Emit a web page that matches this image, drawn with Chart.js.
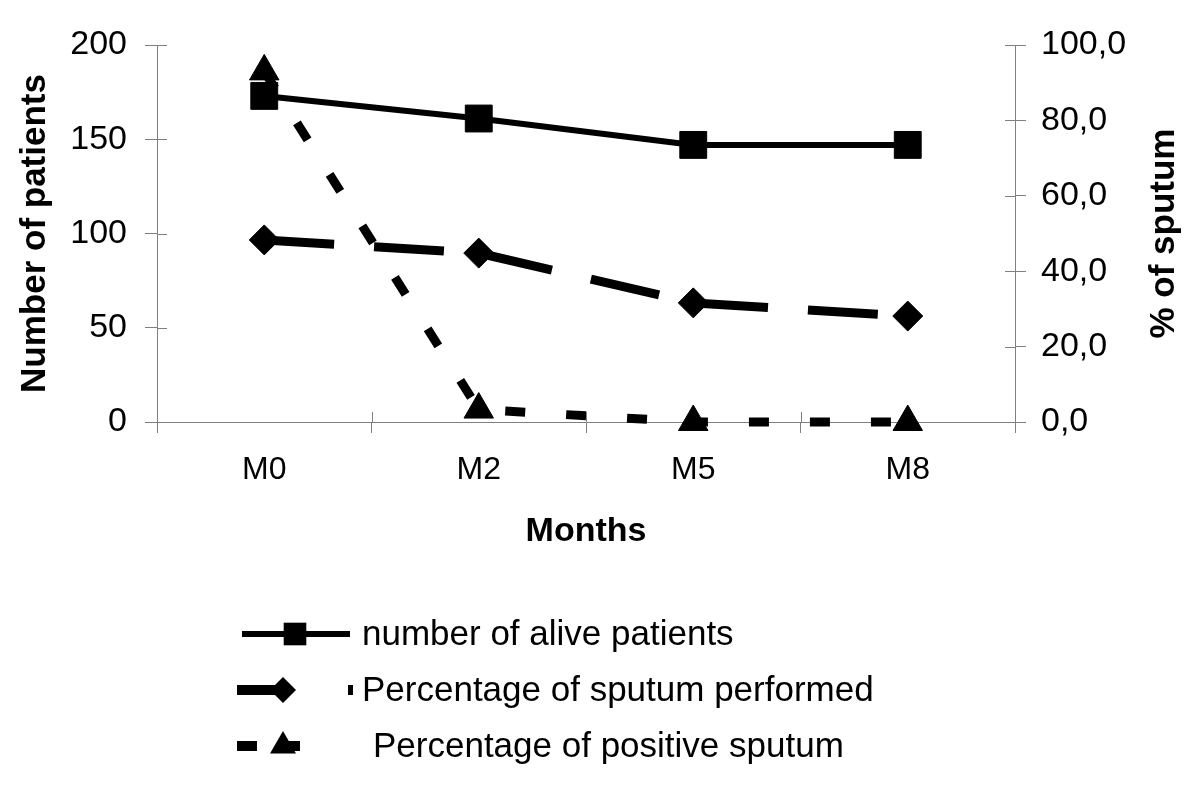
<!DOCTYPE html>
<html><head><meta charset="utf-8">
<script src="https://cdn.jsdelivr.net/npm/chart.js@4.4.1/dist/chart.umd.min.js"></script>
<style>html,body{margin:0;padding:0;background:#fff}canvas{display:block}</style>
</head><body>
<canvas id="c" width="1200" height="785"></canvas>
<script>
const months = ['M0', 'M2', 'M5', 'M8'];
const alivePatients = [173, 161, 147, 147];
const sputumPerformed = [48.3, 44.8, 31.6, 28.1];
const positiveSputum = [93, 3.3, 0, 0];
const seriesNames = ['number of alive patients', 'Percentage of sputum performed', 'Percentage of positive sputum'];
const leftAxisTitle = 'Number of patients';
const rightAxisTitle = '% of sputum';
const xAxisTitle = 'Months';

const FONT = "'Liberation Sans', Arial, sans-serif";
const AXIS = '#808080';

function drawMarker(ctx, style, r, x, y) {
  ctx.beginPath();
  if (style === 'rect') {
    const s = r * Math.SQRT1_2;
    ctx.rect(x - s, y - s, 2 * s, 2 * s);
  } else if (style === 'rectRot') {
    ctx.moveTo(x, y - r); ctx.lineTo(x + r, y); ctx.lineTo(x, y + r); ctx.lineTo(x - r, y); ctx.closePath();
  } else {
    ctx.moveTo(x, y - r);
    ctx.lineTo(x + r * Math.sin(2 * Math.PI / 3), y - r * Math.cos(2 * Math.PI / 3));
    ctx.lineTo(x + r * Math.sin(4 * Math.PI / 3), y - r * Math.cos(4 * Math.PI / 3));
    ctx.closePath();
  }
  ctx.fill();
}

const decor = {
  id: 'decor',
  afterDraw(chart) {
    const ctx = chart.ctx;
    const { x, y, y1 } = chart.scales;
    const a = chart.chartArea;
    ctx.save();
    // inward tick marks
    ctx.strokeStyle = AXIS; ctx.lineWidth = 1;
    ctx.beginPath();
    y.ticks.forEach(t => { const p = Math.round(y.getPixelForValue(t.value)) + 0.5; ctx.moveTo(a.left, p); ctx.lineTo(a.left + 10, p); });
    y1.ticks.forEach(t => { const p = Math.round(y1.getPixelForValue(t.value)) + 0.5; ctx.moveTo(a.right, p); ctx.lineTo(a.right - 10, p); });
    for (let i = 0; i <= months.length; i++) {
      const p = Math.round(x.getPixelForValue(i - 0.5)) + 0.5;
      ctx.moveTo(p, a.bottom); ctx.lineTo(p, a.bottom - 10);
    }
    ctx.stroke();
    // right axis title (reads bottom-to-top)
    ctx.fillStyle = '#000';
    ctx.font = 'bold 35px ' + FONT;
    ctx.textAlign = 'center'; ctx.textBaseline = 'middle';
    ctx.translate(y1.right - 36, (a.top + a.bottom) / 2);
    ctx.rotate(-Math.PI / 2);
    ctx.fillText(rightAxisTitle, 0, 0);
    ctx.restore();

    // legend (line sample, marker, label)
    const rowsY = [634, 690, 746];
    const textX = [362, 362, 373];
    const legendMarkerR = [16, 13, 15];
    const sampleDash = [[], [53, 58], [20, 23]];
    ctx.save();
    chart.data.datasets.forEach((ds, i) => {
      const yy = rowsY[i];
      ctx.strokeStyle = '#000'; ctx.fillStyle = '#000';
      ctx.lineWidth = i === 0 ? 6 : 10;
      ctx.setLineDash(sampleDash[i]);
      ctx.lineCap = 'butt';
      ctx.beginPath();
      const x0 = i === 0 ? 242 : 237;
      const x1 = i === 0 ? 350 : (i === 1 ? 353 : 300);
      ctx.moveTo(x0, yy); ctx.lineTo(x1, yy); ctx.stroke();
      ctx.setLineDash([]);
      drawMarker(ctx, ds.pointStyle, legendMarkerR[i], i === 0 ? 295 : 283, yy);
      ctx.font = '35px ' + FONT;
      ctx.textAlign = 'left'; ctx.textBaseline = 'middle';
      ctx.fillText(ds.label, textX[i], yy + 1);
    });
    ctx.restore();
  }
};

new Chart(document.getElementById('c'), {
  type: 'line',
  data: {
    labels: months,
    datasets: [
      { label: seriesNames[0], data: alivePatients, yAxisID: 'y', borderColor: '#000', backgroundColor: '#000',
        borderWidth: 6, pointStyle: 'rect', pointRadius: 19, pointBorderWidth: 1, clip: false, tension: 0 },
      { label: seriesNames[1], data: sputumPerformed, yAxisID: 'y1', borderColor: '#000', backgroundColor: '#000',
        borderWidth: 9, borderDash: [70, 40], pointStyle: 'rectRot', pointRadius: 15, pointBorderWidth: 1, clip: false, tension: 0 },
      { label: seriesNames[2], data: positiveSputum, yAxisID: 'y1', borderColor: '#000', backgroundColor: '#000',
        borderWidth: 9, borderDash: [20, 41], pointStyle: 'triangle', pointRadius: 17, pointBorderWidth: 1, clip: false, tension: 0 }
    ]
  },
  options: {
    responsive: false,
    animation: false,
    events: [],
    layout: { padding: { top: 45, bottom: 229, left: 0, right: 0 } },
    plugins: { legend: { display: false }, tooltip: { enabled: false } },
    scales: {
      x: {
        offset: true,
        grid: { display: true, offset: true, drawOnChartArea: false, tickLength: 11, color: AXIS, lineWidth: 1 },
        border: { color: AXIS, width: 1 },
        ticks: { font: { family: FONT, size: 32 }, color: '#000', padding: 18, maxRotation: 0 },
        title: { display: true, text: xAxisTitle, font: { family: FONT, size: 34, weight: 'bold' }, color: '#000', padding: { top: 4, bottom: 4 } },
        afterFit(s) { s.height = 134; }
      },
      y: {
        position: 'left', min: 0, max: 200,
        grid: { drawOnChartArea: false, tickLength: 12, color: AXIS, lineWidth: 1 },
        border: { color: AXIS, width: 1 },
        ticks: { stepSize: 50, font: { family: FONT, size: 34 }, color: '#000', padding: 18 },
        title: { display: true, text: leftAxisTitle, font: { family: FONT, size: 35, weight: 'bold' }, color: '#000', padding: { top: 14, bottom: 4 } },
        afterFit(s) { s.width = 157; }
      },
      y1: {
        position: 'right', min: 0, max: 100,
        grid: { drawOnChartArea: false, tickLength: 11, color: AXIS, lineWidth: 1 },
        border: { color: AXIS, width: 1 },
        ticks: { stepSize: 20, font: { family: FONT, size: 34 }, color: '#000', padding: 15,
          callback: v => v.toFixed(1).replace('.', ',') },
        afterFit(s) { s.width = 185; }
      }
    }
  },
  plugins: [decor]
});
</script>
</body></html>
